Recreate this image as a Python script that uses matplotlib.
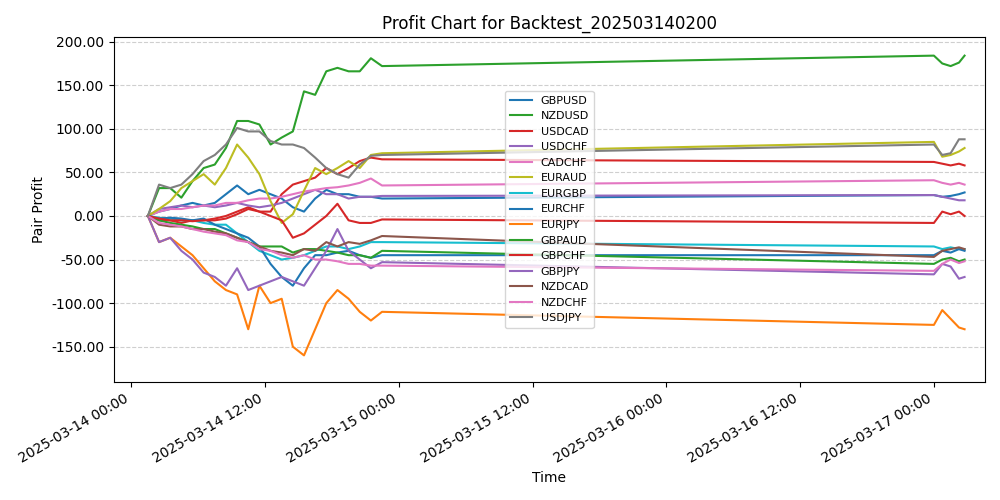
import numpy as np
import pandas as pd
import matplotlib
matplotlib.use('Agg')
import matplotlib.pyplot as plt
import matplotlib.dates as mdates
from matplotlib.ticker import FormatStrFormatter

# Friday hourly samples 01:30 .. 22:30, then Monday samples
friday = pd.date_range('2025-03-14 01:30', '2025-03-14 22:30', freq='1h')
monday = pd.to_datetime(['2025-03-17 00:00', '2025-03-17 00:45', '2025-03-17 01:30',
                         '2025-03-17 02:15', '2025-03-17 02:45'])
times = friday.append(monday)

pairs = ['GBPUSD', 'NZDUSD', 'USDCAD', 'USDCHF', 'CADCHF', 'EURAUD', 'EURGBP', 'EURCHF',
         'EURJPY', 'GBPAUD', 'GBPCHF', 'GBPJPY', 'NZDCAD', 'NZDCHF', 'USDJPY']
colors = ['#1f77b4', '#2ca02c', '#d62728', '#9467bd', '#e377c2', '#bcbd22', '#17becf', '#1f77b4',
          '#ff7f0e', '#2ca02c', '#d62728', '#9467bd', '#8c564b', '#e377c2', '#7f7f7f']

GBPUSD = [0, 5, 8, 12, 15, 12, 15, 25, 35, 25, 30, 25, 20, 10, 5, 20, 30, 25, 25, 22, 22, 20,
          24, 22, 23, 25, 27]
NZDUSD = [0, 32, 32, 21, 40, 55, 59, 78, 109, 109, 105, 82, 90, 97, 143, 139, 166, 170, 166, 166, 181, 172,
          184, 175, 172, 176, 184]
USDCAD = [0, -5, -5, -8, -5, -5, -3, 0, 5, 10, 5, 5, 25, 36, 40, 44, 55, 48, 55, 63, 67, 65,
          62, 60, 58, 60, 58]
USDCHF = [0, 8, 10, 12, 10, 12, 10, 12, 15, 12, 10, 12, 15, 20, 25, 30, 25, 25, 20, 22, 22, 23,
          24, 22, 20, 18, 18]
CADCHF = [0, 5, 8, 8, 10, 12, 12, 15, 15, 18, 20, 20, 22, 25, 28, 30, 32, 33, 35, 38, 43, 35,
          41, 38, 36, 38, 36]
EURAUD = [0, 8, 17, 32, 40, 48, 36, 55, 82, 67, 48, 17, -8, 2, 29, 55, 48, 55, 63, 55, 70, 72,
          85, 68, 70, 74, 78]
EURGBP = [0, -2, -3, -5, -5, -8, -10, -10, -20, -30, -40, -45, -50, -48, -45, -40, -35, -35, -38, -35, -30, -30,
          -35, -38, -36, -38, -38]
EURCHF = [0, -3, -2, -3, -5, -3, -10, -15, -20, -25, -35, -55, -70, -80, -60, -45, -45, -42, -40, -45, -48, -45,
          -45, -40, -42, -38, -40]
EURJPY = [0, -30, -25, -35, -45, -60, -75, -85, -90, -130, -80, -100, -95, -150, -160, -130, -100, -85, -95, -110, -120, -110,
          -125, -108, -118, -128, -130]
GBPAUD = [0, -5, -8, -10, -12, -15, -15, -20, -25, -30, -35, -35, -35, -42, -38, -38, -40, -42, -45, -45, -48, -40,
          -55, -50, -48, -52, -50]
GBPCHF = [0, -3, -5, -5, -6, -5, -5, -3, 2, 8, 5, 0, -5, -25, -20, -10, 0, 14, -5, -8, -8, -4,
          -8, 5, 2, 5, 0]
GBPJPY = [0, -30, -25, -40, -50, -65, -70, -80, -60, -85, -80, -75, -70, -75, -80, -60, -40, -15, -40, -50, -60, -53,
          -67, -55, -58, -72, -70]
NZDCAD = [0, -10, -12, -12, -15, -15, -18, -20, -25, -30, -35, -40, -42, -45, -38, -40, -30, -35, -30, -32, -28, -23,
          -47, -40, -38, -36, -38]
NZDCHF = [0, -8, -10, -12, -15, -18, -20, -22, -28, -30, -38, -40, -45, -48, -45, -50, -50, -52, -55, -55, -57, -57,
          -63, -55, -50, -54, -52]
USDJPY = [0, 36, 32, 36, 48, 63, 70, 82, 101, 97, 97, 86, 82, 82, 78, 67, 55, 48, 44, 59, 69, 70,
          82, 70, 72, 88, 88]

series = [GBPUSD, NZDUSD, USDCAD, USDCHF, CADCHF, EURAUD, EURGBP, EURCHF,
          EURJPY, GBPAUD, GBPCHF, GBPJPY, NZDCAD, NZDCHF, USDJPY]

fig, ax = plt.subplots(figsize=(10, 5), dpi=100)
for name, vals, c in zip(pairs, series, colors):
    ax.plot(times, vals, color=c, label=name, linewidth=1.5)

ax.set_title('Profit Chart for Backtest_202503140200')
ax.set_xlabel('Time')
ax.set_ylabel('Pair Profit')
ax.yaxis.set_major_formatter(FormatStrFormatter('%.2f'))
ax.xaxis.set_major_locator(mdates.HourLocator(byhour=[0, 12]))
ax.xaxis.set_major_formatter(mdates.DateFormatter('%Y-%m-%d %H:%M'))
ax.set_xlim(pd.Timestamp('2025-03-13 22:27'), pd.Timestamp('2025-03-17 04:35'))
ax.set_ylim(-190, 205)
ax.grid(axis='y', linestyle='--', alpha=0.6)
ax.legend(loc='center', fontsize=8)
fig.autofmt_xdate()
fig.tight_layout()
fig.savefig('out.png')
